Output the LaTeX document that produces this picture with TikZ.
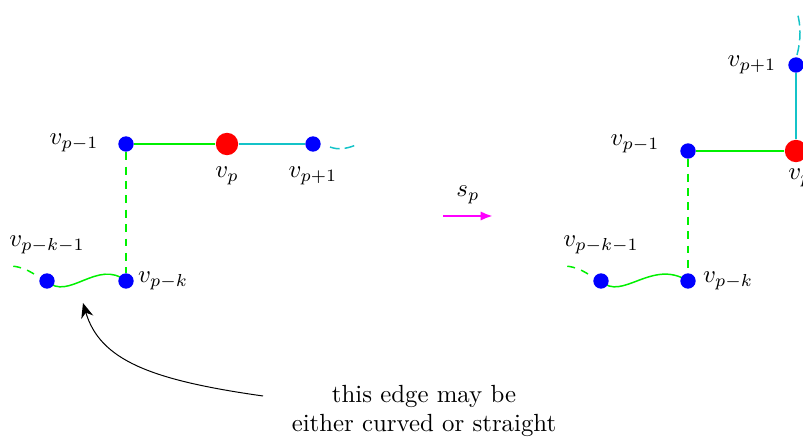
\documentclass[tikz,border=0pt]{standalone}
\usetikzlibrary{arrows.meta,backgrounds}
\definecolor{edgecyan}{RGB}{20,195,200}
\definecolor{edgegreen}{RGB}{0,240,0}
\definecolor{mag}{RGB}{255,0,255}
\definecolor{dotblue}{RGB}{0,0,255}
\definecolor{dotred}{RGB}{255,0,0}
\begin{document}
\begin{tikzpicture}[x=0.403pt,y=-0.403pt,
  bdot/.style={circle,fill=dotblue,inner sep=0pt,minimum size=6.2pt},
  rdot/.style={circle,fill=dotred,inner sep=0pt,minimum size=9pt},
  gedge/.style={draw=edgegreen,line width=0.6pt},
  cedge/.style={draw=edgecyan,line width=0.6pt},
  gdash/.style={gedge,dash pattern=on 3.2pt off 2.6pt},
  cdash/.style={cedge,dash pattern=on 4pt off 2pt}]
\useasboundingbox (0,0) rectangle (803,438);
% left graph
\node[bdot] (Lpm1) at (126,144) {};
\node[rdot] (Lp) at (227,144) {};
\node[bdot] (Lpp1) at (313,144) {};
\node[bdot] (Lpk) at (126,281) {};
\node[bdot] (Lpk1) at (47,281) {};
\coordinate (Lcs) at (330,147);
\coordinate (Lce) at (356,145);
\coordinate (Lgs) at (34,274);
\coordinate (Lge) at (9,266);
\node (tLpm1) at (74,143) {$v_{p-1}$};
\node (tLp) at (227,176) {$v_p$};
\node (tLpp1) at (313,176) {$v_{p+1}$};
\node (tLpk1) at (47,245) {$v_{p-k-1}$};
\node (tLpk) at (163,281) {$v_{p-k}$};
% right graph
\node[bdot] (Rpm1) at (688,151) {};
\node[rdot] (Rp) at (796,151) {};
\node[bdot] (Rpp1) at (796,65) {};
\node[bdot] (Rpk) at (688,281) {};
\node[bdot] (Rpk1) at (601,281) {};
\coordinate (Rcs) at (797,55);
\coordinate (Rce) at (797,12);
\coordinate (Rgs) at (588,274);
\coordinate (Rge) at (563,266);
\node (tRpm1) at (635,144) {$v_{p-1}$};
\node (tRp) at (800,178) {$v_p$};
\node (tRpp1) at (752,65) {$v_{p+1}$};
\node (tRpk1) at (601,245) {$v_{p-k-1}$};
\node (tRpk) at (728,281) {$v_{p-k}$};
% s_p arrow
\coordinate (spA) at (443,216);
\coordinate (spB) at (493,216);
\node (tsp) at (468,195) {$s_p$};
\draw[mag,line width=1pt,-{Latex[length=5pt,width=3.8pt]}] (spA) -- (spB);
% note
\node[align=center,inner sep=0pt] (note) at (424,411) {this edge may be\\either curved or straight};
\coordinate (arS) at (263,396);
\coordinate (arE) at (83,303);
\draw[black,line width=0.4pt,-{Stealth[length=6pt,width=5pt]}] (arS) .. controls (150,380) and (100,360) .. (arE);
\begin{scope}[on background layer]
\draw[gedge] (Lpm1) -- (Lp);
\draw[cedge] (Lp) -- (Lpp1);
\draw[gdash] (Lpm1) -- (Lpk);
\draw[gedge] (Lpk1.center) .. controls (68,302) and (98,258) .. (Lpk.center);
\draw[cdash] (Lcs) .. controls (338,150) and (346,149) .. (Lce);
\draw[gdash] (Lgs) .. controls (26,269) and (18,266) .. (Lge);
\draw[gedge] (Rpm1) -- (Rp);
\draw[cedge] (Rp) -- (Rpp1);
\draw[gdash] (Rpm1) -- (Rpk);
\draw[gedge] (Rpk1.center) .. controls (622,302) and (652,258) .. (Rpk.center);
\draw[cdash] (Rcs) .. controls (801,40) and (801,25) .. (Rce);
\draw[gdash] (Rgs) .. controls (580,269) and (572,266) .. (Rge);
\end{scope}
\end{tikzpicture}
\end{document}
